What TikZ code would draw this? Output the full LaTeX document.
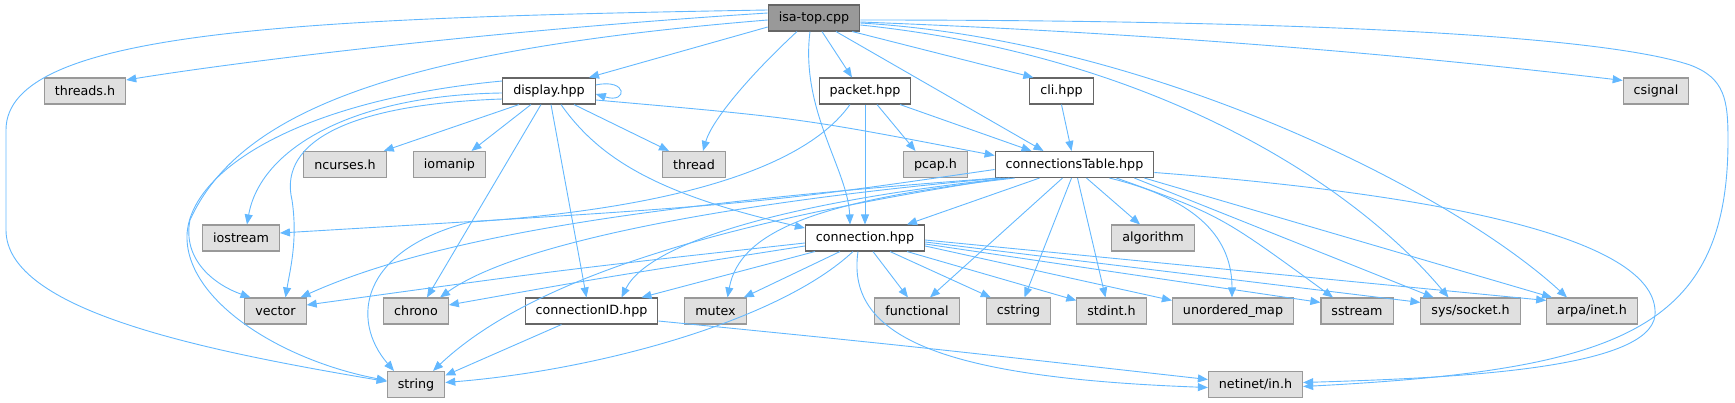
\documentclass[tikz,border=0pt]{standalone}
\usepackage{fontspec}
\setmainfont{DejaVu Sans}
\usepackage{xcolor}
\usepackage{tikz}
\usetikzlibrary{arrows.meta}

\definecolor{edgeblue}{HTML}{63B8FF}
\definecolor{extfill}{HTML}{E0E0E0}
\definecolor{extline}{HTML}{999999}
\definecolor{intline}{HTML}{666666}
\definecolor{rootfill}{HTML}{999999}

\begin{document}
\begin{tikzpicture}[x=1pt, y=-1pt,
		box/.style={rectangle, minimum height=26pt, inner xsep=10.5pt, line width=1.1pt, font=\fontsize{12.7}{15}\selectfont},
		file/.style={box, draw=intline, fill=white},
		ext/.style={box, draw=extline, fill=extfill},
		root/.style={box, draw=intline, fill=rootfill},
		dep/.style={draw=edgeblue, line width=0.9pt, -{Triangle[length=10pt, width=8pt]}}]
			\useasboundingbox (0, 0) rectangle (1735, 403);
			% Nodes and edges:
			\node[root](isatop) at (814, 18){isa-top.cpp};
			\node[ext](threads) at (85, 91){threads.h};
			\node[file](display) at (549, 91){display.hpp};
			\node[file](packet) at (865, 91){packet.hpp};
			\node[file](cli) at (1061.5, 91){cli.hpp};
			\node[ext](csignal) at (1656, 91){csignal};
			\node[ext](ncurses) at (345, 164.5){ncurses.h};
			\node[ext](iomanip) at (449.5, 164.5){iomanip};
			\node[ext](thread) at (694, 164.5){thread};
			\node[ext](pcap) at (935.5, 164.5){pcap.h};
			\node[file](ctable) at (1074.5, 164.5){connectionsTable.hpp};
			\node[ext](iostream) at (241, 238){iostream};
			\node[file](connection) at (865, 238){connection.hpp};
			\node[ext](algorithm) at (1153, 238){algorithm};
			\node[ext](vector) at (275.5, 311){vector};
			\node[ext](chrono) at (416, 311){chrono};
			\node[file](connectionID) at (591.5, 311){connectionID.hpp};
			\node[ext](mutex) at (715.5, 311){mutex};
			\node[ext](functional) at (917, 311){functional};
			\node[ext](cstring) at (1018.5, 311){cstring};
			\node[ext](stdint) at (1111.5, 311){stdint.h};
			\node[ext](umap) at (1233, 311){unordered\_map};
			\node[ext](sstream) at (1357, 311){sstream};
			\node[ext](socket) at (1470.5, 311){sys/socket.h};
			\node[ext](inet) at (1592, 311){arpa/inet.h};
			\node[ext](string) at (416, 384.5){string};
			\node[ext](netinet) at (1255.5, 384.5){netinet/in.h};
			\draw[dep] ([yshift=8]isatop.west) .. controls (300, 18) and (6, 30) .. (6, 130) -- (6, 230) .. controls (6, 310) and (200, 350) .. ([yshift=3]string.west);
			\draw[dep] ([yshift=5]isatop.west) .. controls (500, 30) and (250, 60) .. ([yshift=11]threads.east);
			\draw[dep] ([yshift=-2]isatop.west) .. controls (400, 50) and (240, 110) .. (190, 220) .. controls (182, 260) and (215, 285) .. ([xshift=-25]vector.north);
			\draw[dep] ([yshift=-9]isatop.west) -- ([xshift=40]display.north);
			\draw[dep] ([xshift=-17]isatop.south) .. controls (750, 75) and (712, 120) .. ([xshift=9]thread.north);
			\draw[dep] ([xshift=8]isatop.south) -- ([xshift=-13]packet.north);
			\draw[dep] ([xshift=-4]isatop.south) .. controls (800, 110) and (848, 170) .. ([xshift=-15]connection.north);
			\draw[dep] ([xshift=22]isatop.south) -- ([xshift=-31]ctable.north);
			\draw[dep] ([xshift=-8]isatop.south east) -- ([xshift=4]cli.north west);
			\draw[dep] ([yshift=-7]isatop.east) .. controls (1150, 55) and (1350, 180) .. ([xshift=-22]socket.north);
			\draw[dep] ([yshift=-5]isatop.east) .. controls (1150, 40) and (1450, 190) .. ([xshift=-25]inet.north);
			\draw[dep] ([yshift=-4]isatop.east) .. controls (1200, 35) and (1450, 60) .. ([yshift=-3]csignal.north west);
			\draw[dep] ([yshift=-2]isatop.east) .. controls (1300, 20) and (1600, 35) .. (1690, 65) .. controls (1725, 78) and (1728, 100) .. (1728, 140) .. controls (1728, 330) and (1620, 370) .. ([yshift=-2]netinet.east);
			\draw[dep] ([yshift=6]display.east) .. controls (628, 78) and (628, 104) .. ([yshift=-3]display.east);
			\draw[dep] ([xshift=-30]display.south) -- ([xshift=-3]ncurses.north east);
			\draw[dep] ([xshift=-18]display.south) -- ([xshift=22]iomanip.north);
			\draw[dep] ([xshift=25]display.south) -- ([xshift=-25]thread.north);
			\draw[dep] ([xshift=-8]display.south) -- ([xshift=11]chrono.north);
			\draw[dep] ([xshift=2]display.south) -- ([xshift=-5]connectionID.north);
			\draw[dep] ([xshift=12]display.south) .. controls (600, 160) and (660, 195) .. ([yshift=10]connection.west);
			\draw[dep] ([yshift=-9]display.east) .. controls (800, 118) .. ([yshift=9]ctable.west);
			\draw[dep] ([yshift=10]display.west) .. controls (300, 100) and (190, 170) .. (187, 235) .. controls (185, 300) and (280, 360) .. ([yshift=4]string.west);
			\draw[dep] ([yshift=-2]display.west) .. controls (350, 95) and (260, 150) .. ([xshift=6]iostream.north);
			\draw[dep] ([yshift=-8]display.west) .. controls (330, 105) and (280, 150) .. (292, 200) .. controls (298, 240) and (290, 270) .. ([xshift=10]vector.north);
			\draw[dep] ([xshift=12]packet.south) -- ([xshift=-20]pcap.north);
			\draw[dep] (packet.south) -- (connection.north);
			\draw[dep] ([xshift=35]packet.south) -- ([xshift=-43]ctable.north);
			\draw[dep] ([xshift=-15]packet.south) .. controls (800, 175) and (650, 210) .. (470, 222) .. controls (360, 250) and (350, 320) .. ([xshift=-22]string.north);
			\draw[dep] (cli.south) -- ([xshift=-3]ctable.north);
			\draw[dep] ([yshift=-5]ctable.west) .. controls (750, 205) .. ([yshift=5]iostream.east);
			\draw[dep] ([xshift=3]ctable.south west) .. controls (700, 200) and (450, 230) .. ([xshift=25]vector.north);
			\draw[dep] ([xshift=6]ctable.south west) .. controls (750, 200) and (520, 240) .. ([xshift=24]chrono.north);
			\draw[dep] ([xshift=10]ctable.south west) .. controls (800, 210) and (550, 260) .. ([xshift=17]string.north);
			\draw[dep] ([xshift=15]ctable.south west) .. controls (800, 200) and (650, 240) .. ([xshift=30]connectionID.north);
			\draw[dep] ([xshift=20]ctable.south west) .. controls (820, 200) and (740, 230) .. ([xshift=12]mutex.north);
			\draw[dep] ([xshift=-35]ctable.south) -- ([xshift=42]connection.north);
			\draw[dep] ([xshift=-12]ctable.south) -- ([xshift=13]functional.north);
			\draw[dep] ([xshift=-3]ctable.south) -- ([xshift=6]cstring.north);
			\draw[dep] ([xshift=3]ctable.south) -- ([xshift=-6]stdint.north);
			\draw[dep] ([xshift=12]ctable.south) -- ([xshift=-13]algorithm.north);
			\draw[dep] ([xshift=35]ctable.south) .. controls (1200, 200) and (1232, 240) .. ([xshift=-1]umap.north);
			\draw[dep] ([xshift=42]ctable.south) .. controls (1220, 215) .. ([xshift=-24]sstream.north);
			\draw[dep] ([xshift=-20]ctable.south east) -- ([xshift=-37]socket.north);
			\draw[dep] ([xshift=-10]ctable.south east) -- ([xshift=-40]inet.north);
			\draw[dep] ([yshift=-8]ctable.east) .. controls (1450, 195) and (1660, 240) .. (1655, 315) .. controls (1650, 370) and (1450, 378) .. ([yshift=2]netinet.east);
			\draw[dep] ([yshift=-5]connection.west) .. controls (560, 270) .. ([yshift=6]vector.east);
			\draw[dep] ([yshift=-8]connection.west) .. controls (600, 278) .. ([yshift=6]chrono.east);
			\draw[dep] ([xshift=-50]connection.south) -- ([xshift=50]connectionID.north);
			\draw[dep] ([xshift=-25]connection.south) -- ([xshift=-3]mutex.north east);
			\draw[dep] ([xshift=-12]connection.south) .. controls (780, 320) and (600, 370) .. ([yshift=2]string.east);
			\draw[dep] ([xshift=-7]connection.south) .. controls (845, 340) and (950, 378) .. ([yshift=-3]netinet.west);
			\draw[dep] ([xshift=8]connection.south) -- ([xshift=-9]functional.north);
			\draw[dep] ([xshift=25]connection.south) -- ([xshift=5]cstring.north west);
			\draw[dep] ([xshift=42]connection.south) -- ([yshift=-3]stdint.north west);
			\draw[dep] ([yshift=-8]connection.east) -- ([yshift=-3]umap.north west);
			\draw[dep] ([yshift=-6]connection.east) -- ([yshift=-5]sstream.north west);
			\draw[dep] ([yshift=-4]connection.east) -- ([yshift=-5]socket.north west);
			\draw[dep] ([yshift=-2]connection.east) -- ([yshift=-3]inet.north west);
			\draw[dep] ([xshift=-30]connectionID.south) -- ([yshift=9]string.east);
			\draw[dep] ([yshift=-10]connectionID.east) .. controls (900, 345) .. ([yshift=5]netinet.west);
		\end{tikzpicture}
\end{document}
